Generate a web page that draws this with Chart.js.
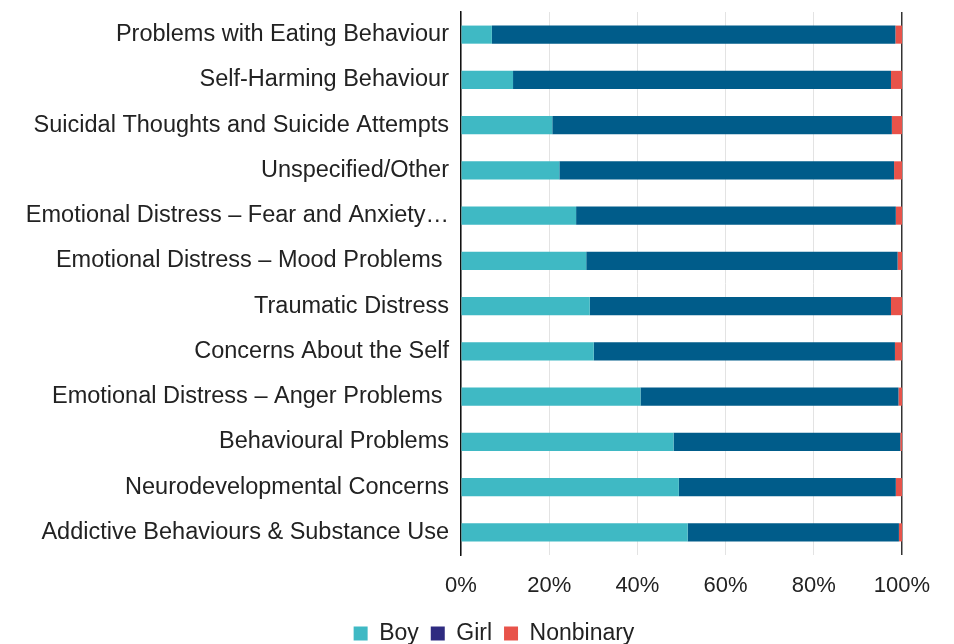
<!DOCTYPE html>
<html>
<head>
<meta charset="utf-8">
<script src="https://cdn.jsdelivr.net/npm/chart.js@4"></script>
<style>
  html, body { margin: 0; padding: 0; background: #fff; }
  #wrap { width: 954px; height: 644px; }
</style>
</head>
<body>
<div id="wrap"><canvas id="barChart" width="954" height="644"></canvas></div>
<script>
// Categorías (de arriba hacia abajo)
const categorias = [
  "Problems with Eating Behaviour",
  "Self-Harming Behaviour",
  "Suicidal Thoughts and Suicide Attempts",
  "Unspecified/Other",
  "Emotional Distress \u2013 Fear and Anxiety\u2026",
  "Emotional Distress \u2013 Mood Problems ",
  "Traumatic Distress",
  "Concerns About the Self",
  "Emotional Distress \u2013 Anger Problems ",
  "Behavioural Problems",
  "Neurodevelopmental Concerns",
  "Addictive Behaviours & Substance Use"
];

// Porcentajes
const boy       = [7.0, 11.8, 20.7, 22.3, 26.1, 28.4, 29.2, 30.1, 40.7, 48.2, 49.4, 51.4];
const girl      = [91.5, 85.7, 77.0, 75.9, 72.5, 70.6, 68.3, 68.3, 58.5, 51.4, 49.2, 47.9];
const nonbinary = [1.5, 2.5, 2.3, 1.8, 1.4, 1.0, 2.5, 1.6, 0.8, 0.4, 1.4, 0.7];

const xTicks = [0, 20, 40, 60, 80, 100];

const colores = { boy: "#3fb9c4", girl: "#005c8a", nonbinary: "#e8534a" };
const colorLeyendaGirl = "#2e2b80";

const fuente = "'Liberation Sans', Arial, Helvetica, sans-serif";

// Desplaza la leyenda a la derecha (en el original está centrada bajo el área de barras)
const moverLeyenda = {
  id: "moverLeyenda",
  afterLayout(chart) {
    if (!chart.legend) return;
    chart.legend.left += 43;
    chart.legend.right += 43;
  }
};

const ctx = document.getElementById("barChart").getContext("2d");
new Chart(ctx, {
  type: "bar",
  data: {
    labels: categorias,
    datasets: [
      { label: "Boy", data: boy, backgroundColor: colores.boy },
      { label: "Girl", data: girl, backgroundColor: colores.girl },
      { label: "Nonbinary", data: nonbinary, backgroundColor: colores.nonbinary }
    ]
  },
  plugins: [moverLeyenda],
  options: {
    indexAxis: "y",
    responsive: false,
    animation: false,
    layout: { padding: { top: 12, right: 52, bottom: -11, left: 0 } },
    datasets: { bar: { barPercentage: 0.4, categoryPercentage: 1.0 } },
    plugins: {
      tooltip: { enabled: false },
      legend: {
        position: "bottom",
        labels: {
          color: "#222",
          font: { family: fuente, size: 23 },
          boxWidth: 14,
          boxHeight: 14,
          padding: 12,
          generateLabels: chart => {
            const base = Chart.defaults.plugins.legend.labels.generateLabels(chart);
            base.forEach(item => {
              item.lineWidth = 0;
              if (item.text === "Girl") item.fillStyle = colorLeyendaGirl;
            });
            return base;
          }
        }
      }
    },
    scales: {
      x: {
        stacked: true,
        min: 0,
        max: 100,
        afterBuildTicks: scale => { scale.ticks = xTicks.map(v => ({ value: v })); },
        afterFit: scale => {
          scale.height = 55;
          scale.paddingLeft = 0;
          scale.paddingRight = 0;
        },
        ticks: {
          color: "#222",
          font: { family: fuente, size: 22 },
          padding: 18,
          callback: v => v + "%"
        },
        grid: {
          drawTicks: false,
          color: c => (c.tick && c.tick.value === 100 ? "#333" : "#e3e3e3"),
          lineWidth: c => (c.tick && c.tick.value === 100 ? 1.5 : 1)
        },
        border: { display: false }
      },
      y: {
        stacked: true,
        afterFit: scale => {
          scale.width = 461;
          scale.paddingTop = 0;
          scale.paddingBottom = 0;
        },
        ticks: {
          color: "#222",
          font: { family: fuente, size: 23.5 },
          padding: 12,
          autoSkip: false
        },
        grid: { display: false, drawTicks: false },
        border: { display: true, color: "#111", width: 1.5 }
      }
    }
  }
});
</script>
</body>
</html>
